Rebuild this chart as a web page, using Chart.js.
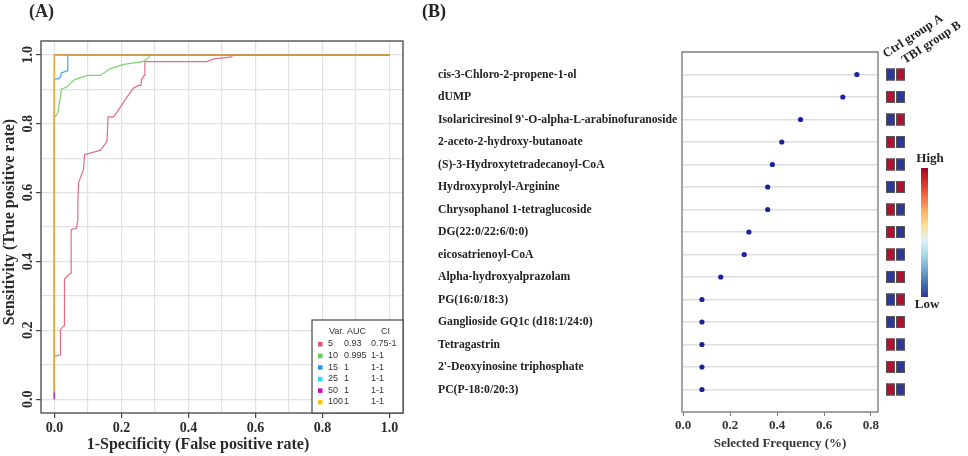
<!DOCTYPE html>
<html>
<head>
<meta charset="utf-8">
<script src="https://cdn.jsdelivr.net/npm/chart.js@4.4.1/dist/chart.umd.min.js"></script>
<style>
  html, body { margin: 0; padding: 0; background: #fff; }
  #wrap { position: relative; width: 968px; height: 456px; overflow: hidden; }
  #rocChart { position: absolute; left: 0; top: 0; }
  #freqChart { position: absolute; left: 420px; top: 0; }
</style>
</head>
<body>
<div id="wrap">
  <canvas id="rocChart" width="420" height="456"></canvas>
  <canvas id="freqChart" width="548" height="456"></canvas>
</div>
<script>
// ---- Panel A: ROC curves ----
const varCounts = ['5', '10', '15', '25', '50', '100'];
const aucValues = ['0.93', '0.995', '1', '1', '1', '1'];
const ciValues = ['0.75-1', '1-1', '1-1', '1-1', '1-1', '1-1'];
const rocColors = ['#DF536B', '#61D04F', '#2297E6', '#28E2E5', '#CD0BBC', '#F5C710'];

const fpr5 = [0, 0, 0.018, 0.018, 0.028, 0.03, 0.03, 0.048, 0.05, 0.05, 0.066, 0.07, 0.07, 0.072, 0.087, 0.09, 0.138, 0.157, 0.16, 0.177, 0.222, 0.237, 0.252, 0.258, 0.26, 0.268, 0.27, 0.455, 0.475, 0.525, 0.537, 1];
const tpr5 = [0, 0.124, 0.129, 0.202, 0.213, 0.213, 0.349, 0.366, 0.366, 0.492, 0.497, 0.521, 0.579, 0.628, 0.667, 0.71, 0.723, 0.749, 0.82, 0.82, 0.885, 0.904, 0.911, 0.911, 0.928, 0.94, 0.98, 0.98, 0.988, 0.993, 1, 1];
const fpr10 = [0, 0, 0.01, 0.013, 0.018, 0.021, 0.038, 0.06, 0.098, 0.137, 0.167, 0.207, 0.262, 0.277, 0.287, 1];
const tpr10 = [0, 0.817, 0.831, 0.85, 0.88, 0.9, 0.907, 0.928, 0.94, 0.94, 0.96, 0.972, 0.98, 0.988, 1, 1];
const fpr15 = [0, 0, 0.013, 0.02, 0.02, 0.038, 0.04, 0.04, 1];
const tpr15 = [0, 0.93, 0.93, 0.94, 0.947, 0.953, 0.953, 1, 1];
const fpr25 = [0, 0, 1];
const tpr25 = [0, 1, 1];
const fpr50 = [0, 0, 1];
const tpr50 = [0, 1, 1];
const fpr100 = [0, 0, 1];
const tpr100 = [0.02, 1, 1];

const gridTicks = [0, 0.1, 0.2, 0.3, 0.4, 0.5, 0.6, 0.7, 0.8, 0.9, 1.0];
const labelTicks = [0, 0.2, 0.4, 0.6, 0.8, 1.0];

// ---- Panel B: selected frequency ----
const metaboliteNames = [
  'cis-3-Chloro-2-propene-1-ol',
  'dUMP',
  "Isolariciresinol 9'-O-alpha-L-arabinofuranoside",
  '2-aceto-2-hydroxy-butanoate',
  '(S)-3-Hydroxytetradecanoyl-CoA',
  'Hydroxyprolyl-Arginine',
  'Chrysophanol 1-tetraglucoside',
  'DG(22:0/22:6/0:0)',
  'eicosatrienoyl-CoA',
  'Alpha-hydroxyalprazolam',
  'PG(16:0/18:3)',
  'Ganglioside GQ1c (d18:1/24:0)',
  'Tetragastrin',
  "2'-Deoxyinosine triphosphate",
  'PC(P-18:0/20:3)'
];
const selectedFreq = [0.74, 0.68, 0.50, 0.42, 0.38, 0.36, 0.36, 0.28, 0.26, 0.16, 0.08, 0.08, 0.08, 0.08, 0.08];
// 1 = high, 0 = low
const ctrlLevel = [0, 1, 0, 1, 1, 0, 1, 1, 1, 0, 0, 0, 1, 1, 1];
const tbiLevel = [1, 0, 1, 0, 0, 1, 0, 0, 0, 1, 1, 1, 0, 0, 0];
const freqTicks = [0, 0.2, 0.4, 0.6, 0.8];
const groupNames = ['Ctrl group A', 'TBI group B'];

const SERIF = '"Liberation Serif", "Times New Roman", serif';
const SANS = '"Liberation Sans", Arial, sans-serif';
const isLabelTick = v => Math.round(v * 10) % 2 === 0;

function toPoints(xs, ys) {
  return xs.map((x, i) => ({ x: x, y: ys[i] }));
}

// hex -> rgba with alpha, the curves look slightly washed out
function fade(hex, a) {
  const n = parseInt(hex.slice(1), 16);
  return `rgba(${n >> 16}, ${(n >> 8) & 255}, ${n & 255}, ${a})`;
}

const rocSeries = [
  [fpr5, tpr5], [fpr10, tpr10], [fpr15, tpr15],
  [fpr25, tpr25], [fpr50, tpr50], [fpr100, tpr100]
];

// frame, rotated y labels, axis titles, legend table
const rocDecor = {
  id: 'rocDecor',
  afterDraw(chart) {
    const { ctx, chartArea: a } = chart;
    const y = chart.scales.y;
    ctx.save();
    ctx.strokeStyle = '#444';
    ctx.lineWidth = 1.3;
    ctx.strokeRect(a.left, a.top, a.right - a.left, a.bottom - a.top);

    ctx.fillStyle = '#2a2a2a';
    ctx.textAlign = 'center';
    ctx.textBaseline = 'middle';
    ctx.font = 'bold 14px ' + SERIF;
    labelTicks.forEach(v => {
      ctx.save();
      ctx.translate(28, y.getPixelForValue(v));
      ctx.rotate(-Math.PI / 2);
      ctx.fillText(v.toFixed(1), 0, 0);
      ctx.restore();
    });
    ctx.font = 'bold 16px ' + SERIF;
    ctx.save();
    ctx.translate(10, 222);
    ctx.rotate(-Math.PI / 2);
    ctx.fillText('Sensitivity (True positive rate)', 0, 0);
    ctx.restore();
    ctx.fillText('1-Specificity (False positive rate)', 198, 445);

    ctx.textAlign = 'left';
    ctx.font = 'bold 18px ' + SERIF;
    ctx.fillText('(A)', 29, 12);

    // legend box
    const lx = 312, ly = 320, lw = a.right - 312, lh = a.bottom - 320;
    ctx.fillStyle = '#fff';
    ctx.fillRect(lx, ly, lw, lh);
    ctx.strokeStyle = '#444';
    ctx.lineWidth = 1.2;
    ctx.strokeRect(lx, ly, lw, lh);
    ctx.font = '9px ' + SANS;
    ctx.fillStyle = '#333';
    ctx.fillText('Var.', 329, 332);
    ctx.fillText('AUC', 347, 332);
    ctx.fillText('CI', 381, 332);
    varCounts.forEach((v, i) => {
      const ry = 344 + i * 11.6;
      ctx.fillStyle = rocColors[i];
      ctx.fillRect(318, ry - 2, 4.5, 4.5);
      ctx.fillStyle = '#333';
      ctx.fillText(v, 328, ry);
      ctx.fillText(aucValues[i], 344, ry);
      ctx.fillText(ciValues[i], 371, ry);
    });
    ctx.restore();
  }
};

// draw order: later curves on top (yellow last)
const rocDatasets = rocSeries.map((s, i) => ({
  label: varCounts[i],
  data: toPoints(s[0], s[1]),
  borderColor: fade(rocColors[i], 0.85),
  borderWidth: 1.2,
  showLine: true,
  pointRadius: 0,
  tension: 0,
  order: rocSeries.length - i
}));

new Chart(document.getElementById('rocChart'), {
  type: 'scatter',
  data: { datasets: rocDatasets },
  options: {
    responsive: false,
    animation: false,
    devicePixelRatio: 1,
    layout: { padding: { left: 0, right: 17, top: 41, bottom: 0 } },
    plugins: { legend: { display: false }, tooltip: { enabled: false } },
    scales: {
      x: {
        type: 'linear',
        min: -0.04,
        max: 1.04,
        afterBuildTicks: s => { s.ticks = gridTicks.map(v => ({ value: v })); },
        afterFit: s => { s.height = 43; },
        ticks: {
          autoSkip: false,
          maxRotation: 0,
          padding: 2,
          color: '#2a2a2a',
          font: { family: SERIF, size: 14, weight: 'bold' },
          callback: v => isLabelTick(v) ? v.toFixed(1) : ''
        },
        grid: {
          color: '#e2e2e2',
          lineWidth: 1.2,
          tickLength: 5,
          tickColor: c => isLabelTick(c.tick.value) ? '#444' : 'rgba(0,0,0,0)'
        },
        border: { display: false }
      },
      y: {
        type: 'linear',
        min: -0.04,
        max: 1.04,
        afterBuildTicks: s => { s.ticks = gridTicks.map(v => ({ value: v })); },
        afterFit: s => { s.width = 41; },
        ticks: { display: false },
        grid: {
          color: '#e2e2e2',
          lineWidth: 1.2,
          tickLength: 5,
          tickColor: c => isLabelTick(c.tick.value) ? '#444' : 'rgba(0,0,0,0)'
        },
        border: { display: false }
      }
    }
  },
  plugins: [rocDecor]
});

// ---- Panel B ----
const rowTicks = [0].concat(metaboliteNames.map((_, i) => i + 1), [metaboliteNames.length + 1]);
const HIGH = '#B1102F';
const LOW = '#2D3896';

const freqDecor = {
  id: 'freqDecor',
  afterDraw(chart) {
    const { ctx, chartArea: a } = chart;
    const y = chart.scales.y;
    ctx.save();
    ctx.strokeStyle = '#888';
    ctx.lineWidth = 1.5;
    ctx.strokeRect(a.left, a.top, a.right - a.left, a.bottom - a.top);

    // two-column heat map of group levels
    ctx.lineWidth = 1;
    ctx.strokeStyle = '#555';
    metaboliteNames.forEach((_, i) => {
      const cy = y.getPixelForValue(i + 1);
      [ctrlLevel[i], tbiLevel[i]].forEach((lvl, j) => {
        const cx = a.right + 8 + j * 10;
        ctx.fillStyle = lvl ? HIGH : LOW;
        ctx.fillRect(cx, cy - 6, 9, 12);
        ctx.strokeRect(cx + 0.5, cy - 5.5, 8, 11);
      });
    });

    // column headers
    ctx.fillStyle = '#222';
    ctx.font = 'bold 12.5px ' + SERIF;
    ctx.textAlign = 'left';
    ctx.textBaseline = 'alphabetic';
    groupNames.forEach((g, j) => {
      ctx.save();
      ctx.translate(a.right + 8 + j * 19, 58 + j * 6);
      ctx.rotate(-0.58);
      ctx.fillText(g, 0, 0);
      ctx.restore();
    });

    // colour key
    const kx = 501, ky = 168, kh = 129;
    const grad = ctx.createLinearGradient(0, ky, 0, ky + kh);
    ['#A50026', '#D73027', '#F46D43', '#FDAE61', '#FEE090', '#E0F3F8', '#ABD9E9', '#74ADD1', '#4575B4', '#313695']
      .forEach((c, i, arr) => grad.addColorStop(i / (arr.length - 1), c));
    ctx.fillStyle = grad;
    ctx.fillRect(kx, ky, 7, kh);
    ctx.fillStyle = '#222';
    ctx.font = 'bold 13px ' + SERIF;
    ctx.textAlign = 'center';
    ctx.textBaseline = 'middle';
    ctx.fillText('High', 510, 159);
    ctx.fillText('Low', 507, 305);

    ctx.textAlign = 'left';
    ctx.font = 'bold 18px ' + SERIF;
    ctx.fillText('(B)', 2, 12);
    ctx.restore();
  }
};

new Chart(document.getElementById('freqChart'), {
  type: 'scatter',
  data: {
    datasets: [{
      label: 'Selected Frequency',
      data: selectedFreq.map((f, i) => ({ x: f, y: i + 1 })),
      backgroundColor: '#1A22A0',
      borderColor: '#1A22A0',
      pointRadius: 2.6,
      pointBorderWidth: 0
    }]
  },
  options: {
    responsive: false,
    animation: false,
    devicePixelRatio: 1,
    layout: { padding: { left: 18, right: 90, top: 52, bottom: 0 } },
    plugins: { legend: { display: false }, tooltip: { enabled: false } },
    scales: {
      x: {
        type: 'linear',
        min: -0.005,
        max: 0.83,
        afterBuildTicks: s => { s.ticks = freqTicks.map(v => ({ value: v })); },
        afterFit: s => { s.height = 44; },
        ticks: {
          autoSkip: false,
          maxRotation: 0,
          padding: 2,
          color: '#333',
          font: { family: SERIF, size: 13, weight: 'bold' },
          callback: v => v.toFixed(1)
        },
        grid: { drawOnChartArea: false, tickLength: 4, tickColor: '#777' },
        border: { display: false },
        title: {
          display: true,
          text: 'Selected Frequency (%)',
          color: '#333',
          font: { family: SERIF, size: 13, weight: 'bold' },
          padding: { top: 0, bottom: 5 }
        }
      },
      y: {
        type: 'linear',
        min: 0,
        max: metaboliteNames.length + 1,
        reverse: true,
        afterBuildTicks: s => { s.ticks = rowTicks.map(v => ({ value: v })); },
        afterFit: s => { s.width = 244; },
        ticks: {
          autoSkip: false,
          crossAlign: 'far',
          color: '#222',
          font: { family: SERIF, size: 11.7, weight: 'bold' },
          callback: v => metaboliteNames[v - 1] || ''
        },
        grid: { color: '#dedede', lineWidth: 1.5, drawTicks: false },
        border: { display: false }
      }
    }
  },
  plugins: [freqDecor]
});
</script>
</body>
</html>
